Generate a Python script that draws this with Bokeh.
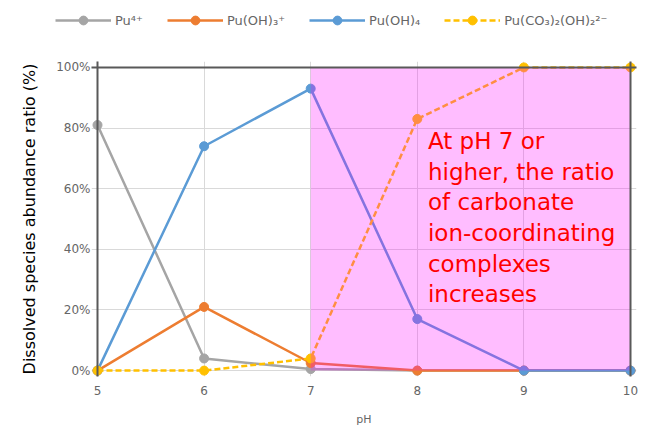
from bokeh.plotting import figure
from bokeh.models import Range1d, Legend, LegendItem, Label, Grid, PrintfTickFormatter, FixedTicker
from bokeh.embed import file_html
from bokeh.resources import INLINE

ph = [5, 6, 7, 8, 9, 10]
pu4 = [81, 4, 0.5, 0, 0, 0]
puoh3 = [0, 21, 2.5, 0, 0, 0]
puoh4 = [0, 74, 93, 17, 0, 0]
puco3 = [0, 0, 4, 83, 100, 100]
y_ticks = [0, 20, 40, 60, 80, 100]
series_names = ["Pu\u2074\u207a", "Pu(OH)\u2083\u207a", "Pu(OH)\u2084", "Pu(CO\u2083)\u2082(OH)\u2082\u00b2\u207b"]
note = "At pH 7 or\nhigher, the ratio\nof carbonate\nion-coordinating\ncomplexes\nincreases"
region_start = 7

FONT = "DejaVu Sans"
W = 640
LH = 35          # height of the legend strip
H = 428 - LH     # height of the chart
pad = 6
fl, fr, ft, fb = 97 - pad, 630 + pad, 67 - LH - pad, 375 - LH + pad
xpad = pad * (ph[-1] - ph[0]) / (fr - fl - 2 * pad)
ypad = pad * 100 / (fb - ft - 2 * pad)

colors = ["#a5a5a5", "#ed7d31", "#5b9bd5", "#ffc000"]
dashes = ["solid", "solid", "solid", "6 3"]
series = [pu4, puoh3, puoh4, puco3]

# ---- legend strip (its ranges leave the series out of view; only the legend shows) ----
lg = figure(width=W, height=LH, output_backend="svg", toolbar_location=None,
            x_axis_type=None, y_axis_type=None, x_range=Range1d(0, 1), y_range=Range1d(-300, -200),
            min_border=0)
lg.outline_line_color = None
lg.xgrid.visible = False
lg.ygrid.visible = False
items = []
for ys, c, d, name in zip(series, colors, dashes, series_names):
    l = lg.line(ph, ys, line_color=c, line_width=2.5, line_dash=d)
    m = lg.scatter(ph, ys, size=9, fill_color=c, line_color=c)
    items.append(LegendItem(label=name, renderers=[l, m]))
legend = Legend(items=items, orientation="horizontal", location=(55, 4),
                glyph_width=56, glyph_height=22, label_standoff=4, spacing=24,
                padding=0, margin=0, border_line_color=None, background_fill_alpha=0,
                label_text_font=FONT, label_text_font_size="13px", label_text_color="#666666")
lg.add_layout(legend)

# ---- chart ----
p = figure(width=W, height=H, output_backend="svg", toolbar_location=None,
           x_range=Range1d(ph[0] - xpad, ph[-1] + xpad),
           y_range=Range1d(-ypad, 100 + ypad),
           min_border_left=fl, min_border_right=W - fr,
           min_border_top=ft, min_border_bottom=H - fb)
p.outline_line_color = None
p.background_fill_color = "white"
p.border_fill_color = "white"

p.xgrid.grid_line_color = "#d9d9d9"
p.ygrid.grid_line_color = "#d9d9d9"
p.xgrid.bounds = (y_ticks[0], y_ticks[-1])
p.ygrid.bounds = (ph[0], ph[-1])
p.xaxis.ticker = FixedTicker(ticks=ph)
p.yaxis.ticker = FixedTicker(ticks=y_ticks)
p.yaxis.formatter = PrintfTickFormatter(format="%d%%")
for ax in (p.xaxis[0], p.yaxis[0]):
    ax.axis_line_color = None
    ax.major_tick_line_color = None
    ax.minor_tick_line_color = None
    ax.major_tick_out = 0
    ax.major_tick_in = 0
    ax.minor_tick_out = 0
    ax.minor_tick_in = 0
    ax.major_label_text_font = FONT
    ax.major_label_text_font_size = "12px"
    ax.major_label_text_color = "#666666"
    ax.axis_label_text_font = FONT
    ax.axis_label_text_font_style = "normal"
p.xaxis.major_label_standoff = 9
p.yaxis.major_label_standoff = 1
p.xaxis.axis_label = "pH"
p.xaxis.axis_label_text_font_size = "11px"
p.xaxis.axis_label_text_color = "#666666"
p.xaxis.axis_label_standoff = 15
p.yaxis.axis_label = "Dissolved species abundance ratio (%)"
p.yaxis.axis_label_text_font_size = "16px"
p.yaxis.axis_label_text_color = "black"
p.yaxis.axis_label_standoff = 14

for ys, c, d in zip(series, colors, dashes):
    p.line(ph, ys, line_color=c, line_width=2.5, line_dash=d)
    p.scatter(ph, ys, size=9, fill_color=c, line_color=c)

p.quad(left=[region_start], right=[ph[-1]], bottom=[y_ticks[0]], top=[y_ticks[-1]],
       fill_color="#ff00ff", fill_alpha=0.26, line_color=None)

# dark frame at the data limits (left, right, top)
p.add_layout(Grid(dimension=0, ticker=FixedTicker(ticks=[ph[0], ph[-1]]),
                  bounds=(y_ticks[0], y_ticks[-1]), grid_line_color="#595959", grid_line_width=2,
                  level="annotation"))
p.add_layout(Grid(dimension=1, ticker=FixedTicker(ticks=[y_ticks[-1]]),
                  bounds=(ph[0], ph[-1]), grid_line_color="#595959", grid_line_width=2,
                  level="annotation"))

p.add_layout(Label(x=8.1, y=80, text=note, text_color="red", text_font=FONT,
                   text_font_size="23px", text_baseline="top", text_line_height=1.18))

open("out.html", "w").write(file_html([lg, p], INLINE))
